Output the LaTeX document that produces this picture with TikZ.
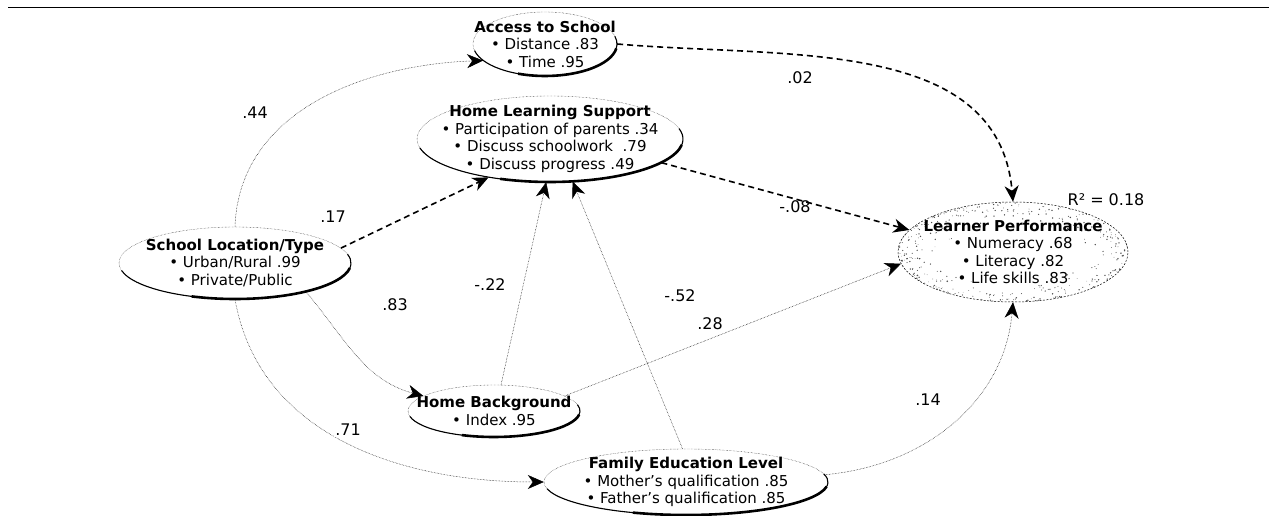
\documentclass[tikz,border=0pt]{standalone}
\usepackage{fontspec}
\setmainfont{DejaVu Sans}
\usetikzlibrary{arrows.meta,shapes.geometric}
\newcommand\blob[5]{%
  \node[ell, minimum width=#3*2pt, minimum height=#4*2pt] (#1) at (#2) {};
  \draw[line width=1.1pt] (#2) ++(192:#3 and #4) arc[start angle=192,end angle=374,x radius=#3,y radius=#4];
  \draw[line width=2.6pt] (#2) ++(248:#3 and #4) arc[start angle=248,end angle=352,x radius=#3,y radius=#4];
  \node[txt] at (#2) {#5};
}
\begin{document}
\begin{tikzpicture}[x=1pt,y=1pt,
  ell/.style={ellipse, draw, densely dotted, line width=0.4pt, inner sep=0pt},
  txt/.style={align=center, font=\fontsize{15}{17.5}\selectfont},
  coef/.style={font=\fontsize{16}{18}\selectfont, inner sep=1pt},
  gapcoef/.style={coef, fill=white},
  tip/.style={-{Stealth[length=16pt,width=14pt,inset=5pt]}},
  thinlink/.style={tip, densely dotted, line width=0.5pt},
  dashlink/.style={tip, dash pattern=on 6pt off 4pt, line width=1.6pt},
]
\useasboundingbox (0,0) rectangle (1269,516);
% top rule
\draw[line width=0.8pt] (8,509) -- (1269,509);

% Learner Performance (speckled)
\node[ellipse, draw, dash pattern=on 2pt off 1.5pt, line width=0.5pt, minimum width=230pt, minimum height=100pt, inner sep=0pt] (lp) at (1013,264) {};
\begin{scope}
\clip (1013,264) ellipse (115 and 50);
\pgfmathsetseed{7}
\foreach \i in {1,...,380}{
  \pgfmathsetmacro\ang{rnd*360}
  \pgfmathsetmacro\rr{1-0.45*rnd*rnd}
  \pgfmathsetmacro\px{1013+\rr*115*cos(\ang)}
  \pgfmathsetmacro\py{264+\rr*50*sin(\ang)}
  \pgfmathsetmacro\ds{0.3+0.5*rnd}
  \fill[black!70] (\px,\py) circle (\ds pt);
}
\end{scope}
\node[txt] at (lp) {\textbf{Learner Performance}\\ • Numeracy .68\\ • Literacy .82\\ • Life skills .83};

\blob{ats}{545,472}{72}{32}{\textbf{Access to School}\\ • Distance .83\\ • Time .95}
\blob{hls}{550,377}{133}{43}{\textbf{Home Learning Support}\\ • Participation of parents .34\\ • Discuss schoolwork\ \ .79\\ • Discuss progress .49}
\blob{slt}{235,253}{116}{36}{\textbf{School Location/Type}\\ • Urban/Rural .99\\ • Private/Public}
\blob{hb}{494,105}{86}{26}{\textbf{Home Background}\\ • Index .95}
\blob{fel}{686,34}{142}{33}{\textbf{Family Education Level}\\ • Mother's qualification .85\\ • Father's qualification .85}

% connectors
\draw[thinlink] (slt.north) to[out=88,in=182] (ats.195);
\draw[dashlink] (slt.8) -- (hls.212);
\draw[thinlink] (slt.-22) to[out=-50,in=165] (hb.168);
\draw[thinlink] (slt.south) to[out=-80,in=180] (fel.180);
\draw[dashlink] (ats.east) to[out=-5,in=95] (lp.north);
\draw[dashlink] (hls.-12) -- (lp.168);
\draw[thinlink] (hb.75) -- (hls.-95);
\draw[thinlink] (fel.96) -- (hls.-62);
\draw[thinlink] (hb.12) -- (lp.186);
\draw[thinlink] (fel.3) to[out=5,in=-95] (lp.south);

% coefficients
\node[gapcoef] at (255,403) {.44};
\node[coef] at (333,299) {.17};
\node[gapcoef] at (395,211) {.83};
\node[gapcoef] at (348,86) {.71};
\node[coef] at (800,438) {.02};
\node[coef] at (795,309) {-.08};
\node[coef] at (490,231) {-.22};
\node[coef] at (680,220) {-.52};
\node[coef] at (710,192) {.28};
\node[coef] at (928,116) {.14};
\node[coef] at (1106,316) {R² = 0.18};
\end{tikzpicture}
\end{document}
